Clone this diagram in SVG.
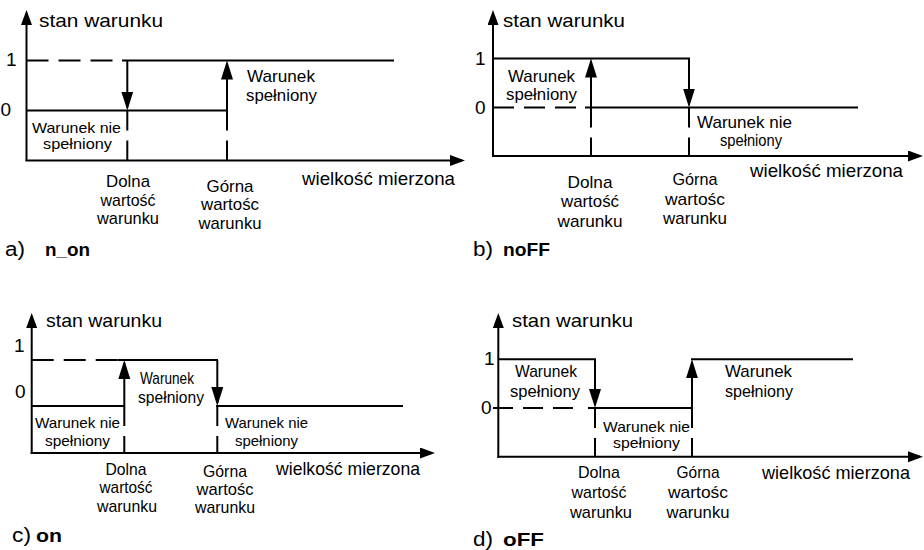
<svg xmlns="http://www.w3.org/2000/svg" width="924" height="550" viewBox="0 0 924 550">
<style>
.ln{stroke:#000;stroke-width:2;fill:none}
.ds{stroke:#000;stroke-width:2;fill:none;stroke-dasharray:22 10}
.dv{stroke:#000;stroke-width:2;fill:none;stroke-dasharray:20 10}
.ax{stroke:#000;stroke-width:2;fill:none;marker-end:url(#axh)}
.ar{stroke:#000;stroke-width:2;fill:none;marker-end:url(#arh)}
text{font-family:"Liberation Sans",Arial,sans-serif;fill:#000}
.t17{font-size:19px}
.t18{font-size:19px}
.t16{font-size:17px}
.t14{font-size:15px}
.lb{font-size:20px}
.c{text-anchor:middle;font-size:17px}
.b{font-weight:bold;font-size:19px}
</style>
<defs>
<marker id="axh" markerUnits="userSpaceOnUse" markerWidth="16" markerHeight="12" refX="12" refY="5.5" orient="auto"><path d="M0,0 L15,5.5 L0,11 z" fill="#000"/></marker>
<marker id="arh" markerUnits="userSpaceOnUse" markerWidth="20" markerHeight="13" refX="16" refY="6" orient="auto"><path d="M0,0 L19,6 L0,12 z" fill="#000"/></marker>
</defs>

<g id="panel-a">
<line class="ax" x1="26.5" y1="161" x2="26.5" y2="13"/>
<line class="ax" x1="25.5" y1="160.5" x2="462" y2="160.5"/>
<line class="ds" x1="26.5" y1="60.5" x2="112.5" y2="60.5"/>
<line class="ln" x1="122" y1="60.5" x2="394" y2="60.5"/>
<line class="ln" x1="26.5" y1="110.5" x2="228" y2="110.5"/>
<line class="ar" x1="127.3" y1="60.5" x2="127.3" y2="107.5"/>
<line class="dv" x1="127.3" y1="110.5" x2="127.3" y2="160.5"/>
<line class="ar" x1="227" y1="110.5" x2="227" y2="63.5"/>
<line class="dv" x1="227" y1="110.5" x2="227" y2="160.5"/>
<text class="t17" x="39" y="27" textLength="124" lengthAdjust="spacingAndGlyphs">stan warunku</text>
<text class="t17" x="6" y="66">1</text>
<text class="t17" x="0.5" y="116">0</text>
<text class="t16" x="247" y="82" textLength="68" lengthAdjust="spacingAndGlyphs">Warunek</text>
<text class="t16" x="246" y="101" textLength="71" lengthAdjust="spacingAndGlyphs">spełniony</text>
<text class="t14" x="32" y="132.5" textLength="89" lengthAdjust="spacingAndGlyphs">Warunek nie</text>
<text class="t14" x="43" y="149" textLength="69" lengthAdjust="spacingAndGlyphs">spełniony</text>
<text class="c" x="128" y="187" textLength="44" lengthAdjust="spacingAndGlyphs">Dolna</text>
<text class="c" x="128" y="205.5" textLength="55" lengthAdjust="spacingAndGlyphs">wartość</text>
<text class="c" x="128" y="224" textLength="62" lengthAdjust="spacingAndGlyphs">warunku</text>
<text class="c" x="230" y="192" textLength="47" lengthAdjust="spacingAndGlyphs">Górna</text>
<text class="c" x="230" y="210" textLength="58" lengthAdjust="spacingAndGlyphs">wartośc</text>
<text class="c" x="230" y="229" textLength="63" lengthAdjust="spacingAndGlyphs">warunku</text>
<text class="t18" x="302" y="185" textLength="153" lengthAdjust="spacingAndGlyphs">wielkość mierzona</text>
<text class="lb" x="5" y="256" textLength="20" lengthAdjust="spacingAndGlyphs">a)</text>
<text class="b" x="45" y="256" textLength="45" lengthAdjust="spacingAndGlyphs">n_on</text>
</g>

<g id="panel-b">
<line class="ax" x1="493" y1="157" x2="493" y2="13"/>
<line class="ax" x1="492" y1="156" x2="920" y2="156"/>
<line class="ln" x1="493" y1="58.5" x2="690" y2="58.5"/>
<line class="ds" style="stroke-dasharray:21 10" x1="493" y1="107.5" x2="576" y2="107.5"/>
<line class="ln" x1="585" y1="107.5" x2="858" y2="107.5"/>
<line class="ar" x1="591" y1="107.5" x2="591" y2="61.5"/>
<line class="dv" x1="591" y1="107.5" x2="591" y2="156"/>
<line class="ar" x1="689" y1="58.5" x2="689" y2="104.5"/>
<line class="dv" x1="689" y1="107.5" x2="689" y2="156"/>
<text class="t17" x="503" y="27" textLength="122" lengthAdjust="spacingAndGlyphs">stan warunku</text>
<text class="t17" x="475" y="65">1</text>
<text class="t17" x="475" y="114">0</text>
<text class="t16" x="508" y="82" textLength="67" lengthAdjust="spacingAndGlyphs">Warunek</text>
<text class="t16" x="506" y="100" textLength="71" lengthAdjust="spacingAndGlyphs">spełniony</text>
<text class="t16" x="697" y="128" textLength="95" lengthAdjust="spacingAndGlyphs">Warunek nie</text>
<text class="t16" x="720" y="146" textLength="62" lengthAdjust="spacingAndGlyphs">spełniony</text>
<text class="c" x="590" y="188" textLength="45" lengthAdjust="spacingAndGlyphs">Dolna</text>
<text class="c" x="590" y="207" textLength="58" lengthAdjust="spacingAndGlyphs">wartość</text>
<text class="c" x="590" y="227" textLength="65" lengthAdjust="spacingAndGlyphs">warunku</text>
<text class="c" x="695" y="185" textLength="45" lengthAdjust="spacingAndGlyphs">Górna</text>
<text class="c" x="695" y="205" textLength="60" lengthAdjust="spacingAndGlyphs">wartośc</text>
<text class="c" x="695" y="224" textLength="64" lengthAdjust="spacingAndGlyphs">warunku</text>
<text class="t18" x="750" y="177" textLength="153" lengthAdjust="spacingAndGlyphs">wielkość mierzona</text>
<text class="lb" x="473" y="256" textLength="20" lengthAdjust="spacingAndGlyphs">b)</text>
<text class="b" x="503" y="256" textLength="47" lengthAdjust="spacingAndGlyphs">noFF</text>
</g>

<g id="panel-c">
<line class="ax" x1="31.7" y1="454" x2="31.7" y2="316"/>
<line class="ax" x1="30.7" y1="453" x2="432" y2="453"/>
<line class="ds" x1="31.7" y1="360" x2="118" y2="360"/>
<line class="ln" x1="118" y1="360" x2="218" y2="360"/>
<line class="ln" x1="31.7" y1="406" x2="125" y2="406"/>
<line class="ln" x1="216" y1="406" x2="403" y2="406"/>
<line class="ar" x1="124.3" y1="406" x2="124.3" y2="363"/>
<line class="dv" x1="124.3" y1="406" x2="124.3" y2="453"/>
<line class="ar" x1="217.3" y1="360" x2="217.3" y2="403"/>
<line class="dv" x1="217.3" y1="406" x2="217.3" y2="453"/>
<text class="t17" x="46" y="327" textLength="116" lengthAdjust="spacingAndGlyphs">stan warunku</text>
<text class="t17" x="14" y="352">1</text>
<text class="t17" x="15" y="398">0</text>
<text class="t16" x="140" y="384" textLength="54" lengthAdjust="spacingAndGlyphs">Warunek</text>
<text class="t16" x="138" y="403" textLength="66" lengthAdjust="spacingAndGlyphs">spełniony</text>
<text class="t14" x="35" y="428" textLength="85" lengthAdjust="spacingAndGlyphs">Warunek nie</text>
<text class="t14" x="45" y="446" textLength="65" lengthAdjust="spacingAndGlyphs">spełniony</text>
<text class="t14" x="225" y="428" textLength="83" lengthAdjust="spacingAndGlyphs">Warunek nie</text>
<text class="t14" x="235" y="446" textLength="63" lengthAdjust="spacingAndGlyphs">spełniony</text>
<text class="c" x="126" y="475" textLength="41" lengthAdjust="spacingAndGlyphs">Dolna</text>
<text class="c" x="126" y="493" textLength="53" lengthAdjust="spacingAndGlyphs">wartość</text>
<text class="c" x="127" y="512" textLength="60" lengthAdjust="spacingAndGlyphs">warunku</text>
<text class="c" x="225" y="477" textLength="44" lengthAdjust="spacingAndGlyphs">Górna</text>
<text class="c" x="225" y="495" textLength="57" lengthAdjust="spacingAndGlyphs">wartośc</text>
<text class="c" x="225" y="513" textLength="60" lengthAdjust="spacingAndGlyphs">warunku</text>
<text class="t18" x="276" y="475" textLength="144" lengthAdjust="spacingAndGlyphs">wielkość mierzona</text>
<text class="lb" x="12" y="542" textLength="19" lengthAdjust="spacingAndGlyphs">c)</text>
<text class="b" x="36" y="542" textLength="26" lengthAdjust="spacingAndGlyphs">on</text>
</g>

<g id="panel-d">
<line class="ax" x1="498.3" y1="457.7" x2="498.3" y2="316"/>
<line class="ax" x1="497.3" y1="456.7" x2="920" y2="456.7"/>
<line class="ln" x1="498.3" y1="359.3" x2="596" y2="359.3"/>
<line class="ln" x1="691" y1="359.3" x2="853" y2="359.3"/>
<line class="ds" style="stroke-dasharray:20 10" x1="493" y1="408" x2="583" y2="408"/>
<line class="ln" x1="588" y1="408" x2="693" y2="408"/>
<line class="ar" x1="595" y1="359.3" x2="595" y2="405"/>
<line class="dv" x1="595" y1="408" x2="595" y2="456.7"/>
<line class="ar" x1="692" y1="408" x2="692" y2="362.3"/>
<line class="dv" x1="692" y1="408" x2="692" y2="456.7"/>
<text class="t17" x="512" y="327" textLength="121" lengthAdjust="spacingAndGlyphs">stan warunku</text>
<text class="t17" x="484" y="365">1</text>
<text class="t17" x="481" y="414">0</text>
<text class="t16" x="515" y="377" textLength="62" lengthAdjust="spacingAndGlyphs">Warunek</text>
<text class="t16" x="510" y="397" textLength="70" lengthAdjust="spacingAndGlyphs">spełniony</text>
<text class="t16" x="725" y="377" textLength="67" lengthAdjust="spacingAndGlyphs">Warunek</text>
<text class="t16" x="725" y="397" textLength="68" lengthAdjust="spacingAndGlyphs">spełniony</text>
<text class="t14" x="603" y="432" textLength="87" lengthAdjust="spacingAndGlyphs">Warunek nie</text>
<text class="t14" x="613" y="448" textLength="67" lengthAdjust="spacingAndGlyphs">spełniony</text>
<text class="c" x="599" y="478" textLength="42" lengthAdjust="spacingAndGlyphs">Dolna</text>
<text class="c" x="599" y="498" textLength="55" lengthAdjust="spacingAndGlyphs">wartość</text>
<text class="c" x="601" y="518" textLength="62" lengthAdjust="spacingAndGlyphs">warunku</text>
<text class="c" x="698" y="478" textLength="43" lengthAdjust="spacingAndGlyphs">Górna</text>
<text class="c" x="698" y="498" textLength="60" lengthAdjust="spacingAndGlyphs">wartośc</text>
<text class="c" x="698" y="518" textLength="63" lengthAdjust="spacingAndGlyphs">warunku</text>
<text class="t18" x="762" y="479" textLength="148" lengthAdjust="spacingAndGlyphs">wielkość mierzona</text>
<text class="lb" x="473" y="546" textLength="20" lengthAdjust="spacingAndGlyphs">d)</text>
<text class="b" x="503" y="546" textLength="41" lengthAdjust="spacingAndGlyphs">oFF</text>
</g>
</svg>
